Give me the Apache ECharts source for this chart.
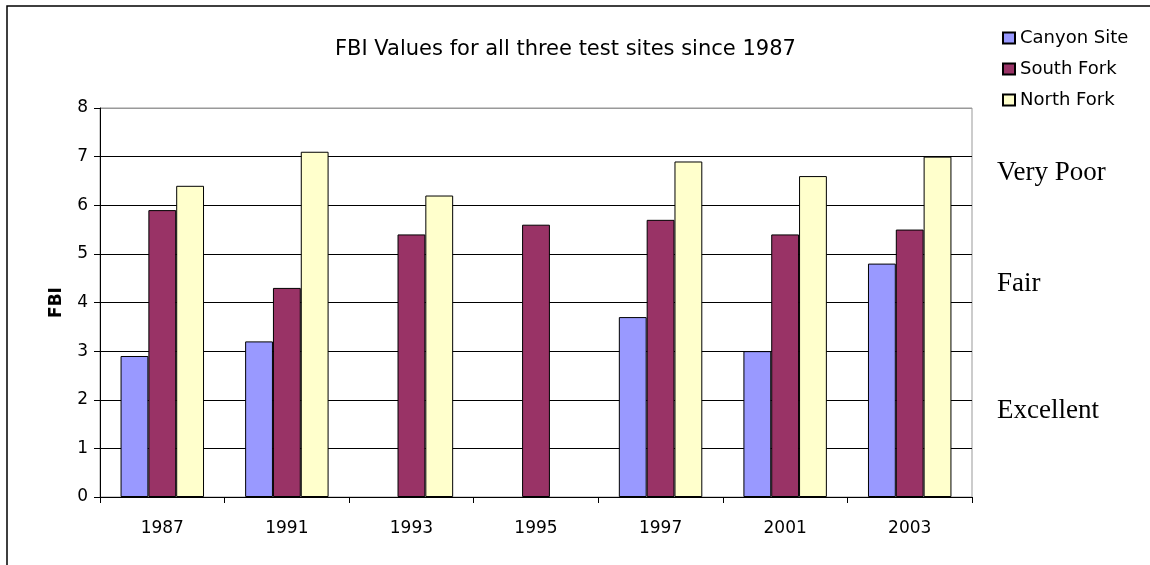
<!DOCTYPE html>
<html>
<head>
<meta charset="utf-8">
<script src="https://cdn.jsdelivr.net/npm/echarts@6/dist/echarts.min.js"></script>
<style>
  html, body { margin: 0; padding: 0; background: #fff; }
  #chart { width: 1150px; height: 565px; }
</style>
</head>
<body>
<div id="chart"></div>
<script>
// chart data
const years = ['1987', '1991', '1993', '1995', '1997', '2001', '2003'];
const canyonSite = [2.9, 3.2, null, null, 3.7, 3.0, 4.8];
const southFork = [5.9, 4.3, 5.4, 5.6, 5.7, 5.4, 5.5];
const northFork = [6.4, 7.1, 6.2, null, 6.9, 6.6, 7.0];
const yTicks = [0, 1, 2, 3, 4, 5, 6, 7, 8];

const font = 'DejaVu Sans';
const chart = echarts.init(document.getElementById('chart'));

// split lines black, the top one (8) grey like the plot border
const splitColors = yTicks.map((t, i) => (i === yTicks.length - 1 ? '#999' : '#000'));

function barSeries(name, data, color) {
  return {
    name: name,
    type: 'bar',
    data: data,
    barGap: '0%',
    barCategoryGap: '33%',
    itemStyle: { color: color, borderColor: '#000', borderWidth: 1 }
  };
}

const option = {
  backgroundColor: '#fff',
  animation: false,
  title: {
    text: 'FBI Values for all three test sites since 1987',
    left: 330,
    top: 34,
    textStyle: { fontFamily: font, fontSize: 21, fontWeight: 'normal', color: '#000' }
  },
  legend: {
    orient: 'vertical',
    left: 997,
    top: 24,
    itemWidth: 12,
    itemHeight: 11,
    itemGap: 13,
    icon: 'rect',
    textStyle: { fontFamily: font, fontSize: 18, color: '#000' },
    data: ['Canyon Site', 'South Fork', 'North Fork']
  },
  grid: {
    left: 100,
    right: 178,
    top: 108,
    bottom: 68,
    show: true,
    borderColor: '#999',
    borderWidth: 1,
    backgroundColor: 'transparent'
  },
  xAxis: {
    type: 'category',
    data: years,
    axisLine: { lineStyle: { color: '#000', width: 1 } },
    axisTick: { show: true, interval: 0, length: 6, lineStyle: { color: '#000' } },
    axisLabel: { fontFamily: font, fontSize: 17, color: '#000', margin: 23 }
  },
  yAxis: {
    type: 'value',
    min: yTicks[0],
    max: yTicks[yTicks.length - 1],
    interval: 1,
    name: 'FBI',
    nameLocation: 'middle',
    nameGap: 35,
    nameRotate: 90,
    nameTextStyle: { fontFamily: font, fontSize: 17, fontWeight: 'bold', color: '#000' },
    axisLine: { show: true, lineStyle: { color: '#000', width: 1 } },
    axisTick: { show: true, length: 6, lineStyle: { color: '#000' } },
    axisLabel: { fontFamily: font, fontSize: 17, color: '#000', margin: 12 },
    splitLine: { show: true, lineStyle: { color: splitColors, width: 1 } }
  },
  series: [
    barSeries('Canyon Site', canyonSite, '#9999ff'),
    barSeries('South Fork', southFork, '#993366'),
    barSeries('North Fork', northFork, '#ffffcc')
  ],
  graphic: [
    {
      type: 'rect',
      shape: { x: 7, y: 6, width: 1200, height: 620 },
      style: { fill: 'none', stroke: '#000', lineWidth: 1.5 },
      silent: true
    },
    {
      type: 'text', left: 997, top: 159,
      style: { text: 'Very Poor', fontFamily: 'Liberation Serif', fontSize: 27, fill: '#000' }
    },
    {
      type: 'text', left: 997, top: 270,
      style: { text: 'Fair', fontFamily: 'Liberation Serif', fontSize: 27, fill: '#000' }
    },
    {
      type: 'text', left: 997, top: 397,
      style: { text: 'Excellent', fontFamily: 'Liberation Serif', fontSize: 27, fill: '#000' }
    }
  ]
};

chart.setOption(option);
</script>
</body>
</html>
